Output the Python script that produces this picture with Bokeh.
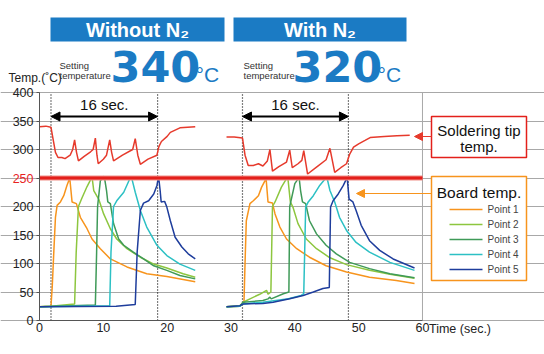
from bokeh.plotting import figure
from bokeh.models import Range1d, FixedTicker, LinearAxis, Arrow, NormalHead
from bokeh.core.properties import value
from bokeh.embed import file_html
from bokeh.resources import INLINE

# ---------------- data ----------------
x_ticks = [0, 10, 20, 30, 40, 50, 60]
y_ticks = [0, 50, 100, 150, 200, 250, 300, 350, 400]
threshold = 250
marker_times = [1.8, 18.5, 31.8, 48.4]
interval_label = "16 sec."
panel_titles = ["Without N\u2082", "With N\u2082"]
set_temps = ["340", "320"]
series_names = ["Point 1", "Point 2", "Point 3", "Point 4", "Point 5"]

# soldering tip temperature
tip_wo_t = [0, 1.0, 1.8, 2.1, 2.5, 2.9, 3.5, 4.0, 4.8, 5.2, 5.5, 5.8, 6.1, 7.0, 8.0, 8.4, 8.75, 9.0, 9.2, 10.0,
            10.5, 11.0, 11.3, 11.6, 13.0, 14.6, 15.0, 15.4, 15.8, 17.0, 18.4, 18.7, 19.1, 20.0, 20.5, 22.0, 24.4]
tip_wo_v = [340, 341, 339, 320, 295, 286, 286, 284, 290, 300, 317, 295, 280, 288, 296, 300, 320, 290, 275, 283,
            290, 317, 295, 280, 290, 300, 319, 290, 274, 283, 290, 305, 314, 323, 330, 338, 340]
tip_w_t = [29.3, 30.5, 31.8, 32.2, 32.7, 33.5, 34.3, 35.0, 35.7, 36.1, 36.5, 37.5, 38.7, 39.2, 39.6, 40.5, 41.1,
           41.4, 42.0, 43.5, 44.9, 45.5, 46.25, 47.2, 48.1, 48.6, 49.2, 50.0, 51.0, 51.8, 54.0, 56.0, 58.0]
tip_w_v = [322, 322, 320, 290, 272, 272, 275, 271, 280, 300, 262, 270, 278, 299, 268, 275, 281,
           298, 257, 270, 282, 302, 260, 268, 275, 292, 304, 310, 316, 321, 323, 324, 325]

# board temperature, without N2
p1_wo_t = [0, 1.8, 2.0, 2.24, 2.5, 2.76, 3.28, 3.8, 4.3, 4.74, 5.1, 5.78, 6.4, 7.45, 8.23, 9.53, 11.1, 13.7, 16.8, 19.95, 24.4]
p1_wo_v = [24, 25, 60, 120, 181, 202, 208, 219, 237, 250, 208, 205, 181, 161, 143, 126, 108, 94, 82, 77, 68]
p2_wo_t = [0, 1.8, 5.5, 5.75, 6.1, 6.65, 7.45, 8.23, 8.5, 9.27, 10.05, 11.1, 12.1, 13.7, 15.8, 17.9, 19.95, 22.5, 24.4]
p2_wo_v = [24, 25, 29, 120, 200, 215, 235, 252, 228, 213, 187, 161, 143, 126, 111, 99, 92, 82, 76]
p3_wo_t = [0, 8.75, 8.95, 9.1, 9.53, 10.15, 10.5, 10.7, 11.1, 11.6, 12.4, 13.2, 14.7, 16.3, 17.9, 19.95, 22.0, 24.4]
p3_wo_v = [24, 27, 120, 200, 245, 253, 228, 208, 205, 170, 143, 132, 120, 108, 96, 88, 79, 73]
p4_wo_t = [0, 11.0, 11.2, 11.6, 12.1, 13.2, 14.2, 14.4, 15.0, 15.8, 16.8, 18.4, 19.95, 22.0, 24.4]
p4_wo_v = [24, 26, 120, 200, 210, 225, 250, 252, 225, 193, 164, 132, 114, 99, 88]
p5_wo_t = [0, 12.0, 15.0, 15.3, 15.8, 16.3, 17.1, 17.9, 18.4, 18.65, 18.9, 19.06, 19.6, 19.95, 20.5, 21.25, 22.3, 23.3, 24.4]
p5_wo_v = [24, 25, 28, 120, 193, 206, 210, 222, 237, 253, 228, 208, 209, 199, 175, 146, 129, 117, 108]

# board temperature, with N2
p1_w_t = [29.3, 31.4, 32.03, 32.2, 32.4, 32.97, 33.5, 34.3, 34.8, 35.5, 35.8, 36.5, 36.9, 37.66, 38.7, 40.3,
          42.3, 44.9, 48.1, 51.7, 55.9, 58.75]
p1_w_v = [24, 25, 30, 100, 175, 205, 210, 219, 234, 249, 208, 206, 187, 164, 143, 126, 111, 96, 85, 76, 70, 65]
p2_w_t = [29.3, 31.4, 31.9, 32.97, 34.5, 35.57, 35.8, 36.25, 36.5, 36.9, 37.9, 38.7, 38.9, 39.3, 39.7, 40.5,
          41.8, 43.4, 45.5, 48.1, 51.7, 54.9, 58.75]
p2_w_v = [24, 26, 32, 38, 46, 53, 46, 50, 200, 208, 234, 249, 251, 208, 199, 170, 143, 126, 110, 98, 88, 81, 74]
p3_w_t = [29.3, 31.4, 31.9, 35.0, 35.8, 36.1, 36.3, 38.2, 39.07, 39.2, 40.0, 40.67, 40.9, 41.2, 41.7, 42.3,
          43.4, 44.9, 46.5, 48.6, 51.7, 54.9, 58.75]
p3_w_v = [24, 25, 32, 35, 38, 41, 38, 47, 50, 200, 240, 251, 228, 208, 205, 175, 152, 132, 117, 102, 91, 82, 75]
p4_w_t = [29.3, 31.4, 31.9, 35.0, 39.0, 41.0, 41.4, 41.7, 42.1, 42.9, 43.9, 44.8, 45.05, 45.5, 46.25, 47.0,
          48.1, 49.6, 51.7, 54.9, 58.75]
p4_w_v = [24, 25, 29, 32, 38, 44, 47, 199, 208, 219, 237, 249, 250, 228, 208, 181, 158, 137, 120, 102, 88]
p5_w_t = [29.3, 31.4, 31.9, 35.0, 36.6, 39.2, 41.3, 42.9, 44.4, 45.4, 45.6, 46.0, 46.8, 47.6, 48.2, 48.5,
          49.1, 49.6, 50.4, 51.7, 53.3, 55.4, 58.75]
p5_w_v = [24, 26, 29, 30, 32, 38, 44, 50, 56, 58, 199, 210, 222, 237, 251, 213, 208, 193, 167, 140, 123, 108, 92]

# ---------------- styles ----------------
TIP = "#e63a2c"
POINT_COLORS = ["#f7941d", "#8dc63f", "#3f9a58", "#2cc0c4", "#1e3d9c"]
BLUE = "#1b7bc4"
FONT = "Liberation Sans"

W, H = 544, 354
X0, XS = 39.0, 6.383    # pixel of t=0, pixels per second
Y0, YS = 320.0, 0.57    # pixel of 0 degC, pixels per degree


def dx(px):
    return (px - X0) / XS


def dy(py):
    return (Y0 - py) / YS


p = figure(width=W, height=H, x_range=Range1d(dx(0), dx(W)), y_range=Range1d(dy(H), dy(0)),
           output_backend="svg", toolbar_location=None, tools="")
p.min_border = 0
p.min_border_left = p.min_border_right = p.min_border_top = p.min_border_bottom = 0
p.outline_line_color = None
p.background_fill_color = "white"
p.border_fill_color = "white"

# axes
p.xaxis.fixed_location = 0
p.yaxis.fixed_location = 0
p.xaxis.bounds = (x_ticks[0], x_ticks[-1])
p.yaxis.bounds = (y_ticks[0], y_ticks[-1])
p.xaxis.ticker = FixedTicker(ticks=x_ticks)
p.yaxis.ticker = FixedTicker(ticks=y_ticks)
p.yaxis.major_label_overrides = {threshold: ""}
for ax in (p.xaxis, p.yaxis):
    ax.axis_line_color = "#555555"
    ax.axis_line_width = 1
    ax.major_label_text_font = FONT
    ax.major_label_text_font_size = "12.5px"
    ax.major_label_text_color = "#222222"
    ax.minor_tick_line_color = None
    ax.major_tick_in = 0
p.yaxis.major_tick_out = 3
p.yaxis.major_tick_line_color = "#555555"
p.yaxis.major_label_standoff = 3
p.xaxis.major_tick_out = 0
p.xaxis.major_tick_line_color = None
p.xaxis.major_label_standoff = 2

red_axis = LinearAxis(fixed_location=0, ticker=FixedTicker(ticks=[threshold]), bounds=(0, 400),
                      axis_line_color=None, major_tick_line_color=None, minor_tick_line_color=None,
                      major_tick_out=3, major_tick_in=0, major_label_standoff=3,
                      major_label_text_font=FONT, major_label_text_font_size="12.5px",
                      major_label_text_color="#e8231f")
p.add_layout(red_axis, "left")

p.xgrid.visible = False
p.ygrid.ticker = FixedTicker(ticks=y_ticks)
p.ygrid.bounds = (x_ticks[0], x_ticks[-1])
p.ygrid.grid_line_color = "#a8a8a8"
p.ygrid.grid_line_width = 1

# right frame edge
p.segment(x0=[x_ticks[-1]], y0=[y_ticks[0]], x1=[x_ticks[-1]], y1=[y_ticks[-1]], line_color="#a8a8a8", line_width=1)

# dotted markers
p.segment(x0=marker_times, y0=[y_ticks[0]] * 4, x1=marker_times, y1=[y_ticks[-1]] * 4,
          line_color="black", line_width=1.2, line_dash="1 2")

# board temperature series
board_wo = [(p1_wo_t, p1_wo_v), (p2_wo_t, p2_wo_v), (p3_wo_t, p3_wo_v), (p4_wo_t, p4_wo_v), (p5_wo_t, p5_wo_v)]
board_w = [(p1_w_t, p1_w_v), (p2_w_t, p2_w_v), (p3_w_t, p3_w_v), (p4_w_t, p4_w_v), (p5_w_t, p5_w_v)]
for i, name in enumerate(series_names):
    for t, v in (board_wo[i], board_w[i]):
        p.line(t, v, line_color=POINT_COLORS[i], line_width=1.5)

# tip temperature
p.line(tip_wo_t, tip_wo_v, line_color=TIP, line_width=1.5)
p.line(tip_w_t, tip_w_v, line_color=TIP, line_width=1.5)

# threshold line
p.line([x_ticks[0], x_ticks[-1]], [threshold, threshold], line_color="#f08f88", line_width=5)
p.line([x_ticks[0], x_ticks[-1]], [threshold, threshold], line_color="#e3201b", line_width=3)

# 16 sec arrows
ya = dy(116)
for a, b in ((marker_times[0], marker_times[1]), (marker_times[2], marker_times[3])):
    p.add_layout(Arrow(start=NormalHead(size=9, fill_color="black", line_color="black"),
                       end=NormalHead(size=9, fill_color="black", line_color="black"),
                       x_start=a, y_start=ya, x_end=b, y_end=ya, line_color="black", line_width=2))
    p.text(x=[(a + b) / 2], y=[dy(104)], text=[interval_label], text_align="center", text_baseline="middle",
           text_font=value(FONT), text_font_size=value("15px"), text_color="#111111")

# header boxes
p.quad(left=[dx(50), dx(233)], right=[dx(224), dx(406)], top=[dy(17), dy(17)], bottom=[dy(41), dy(41)],
       fill_color=BLUE, line_color=None)
p.text(x=[dx(137), dx(319.5)], y=[dy(29.5), dy(29.5)], text=panel_titles, text_align="center",
       text_baseline="middle", text_font=value(FONT), text_font_style="bold",
       text_font_size=value("20px"), text_color="white")
for lx in (59, 243):
    p.text(x=[dx(lx), dx(lx)], y=[dy(65), dy(75)], text=["Setting", "temperature"], text_align="left",
           text_baseline="middle", text_font=value(FONT), text_font_size=value("9.5px"), text_color="#333333")
p.text(x=[dx(110), dx(292)], y=[dy(66), dy(66)], text=set_temps, text_align="left", text_baseline="middle",
       text_font=value("DejaVu Sans"), text_font_style="bold", text_font_size=value("43px"), text_color=BLUE)
p.text(x=[dx(195), dx(377)], y=[dy(73.5), dy(73.5)], text=["\u00b0C", "\u00b0C"], text_align="left",
       text_baseline="middle", text_font=value(FONT), text_font_size=value("21px"), text_color=BLUE)

# axis titles
p.text(x=[dx(8)], y=[dy(77)], text=["Temp.(\u02daC)"], text_align="left", text_baseline="middle",
       text_font=value(FONT), text_font_size=value("12px"), text_color="#222222")
p.text(x=[dx(428.5)], y=[dy(328)], text=["Time (sec.)"], text_align="left", text_baseline="middle",
       text_font=value(FONT), text_font_size=value("12.5px"), text_color="#222222")

# callout boxes
p.quad(left=[dx(431)], right=[dx(526)], top=[dy(116)], bottom=[dy(157)], fill_color="white",
       line_color="#e3201b", line_width=1.5)
p.text(x=[dx(478.5), dx(478.5)], y=[dy(130), dy(146)], text=["Soldering tip", "temp."], text_align="center",
       text_baseline="middle", text_font=value(FONT), text_font_size=value("15px"), text_color="#111111")
p.add_layout(Arrow(end=NormalHead(size=8, fill_color=TIP, line_color=TIP), x_start=dx(431), y_start=dy(136),
                   x_end=dx(414), y_end=dy(136), line_color=TIP, line_width=1.2))

p.quad(left=[dx(431)], right=[dx(526)], top=[dy(176)], bottom=[dy(280)], fill_color="white",
       line_color=POINT_COLORS[0], line_width=1.5)
p.text(x=[dx(478.5)], y=[dy(192)], text=["Board temp."], text_align="center", text_baseline="middle",
       text_font=value(FONT), text_font_size=value("15.5px"), text_color="#111111")
p.add_layout(Arrow(end=NormalHead(size=8, fill_color=POINT_COLORS[0], line_color=POINT_COLORS[0]),
                   x_start=dx(431), y_start=dy(193), x_end=dx(356), y_end=dy(193),
                   line_color=POINT_COLORS[0], line_width=1.2))

# legend
leg_y = [209, 224, 239, 254, 269]
for i, name in enumerate(series_names):
    p.segment(x0=[dx(449)], y0=[dy(leg_y[i])], x1=[dx(482)], y1=[dy(leg_y[i])], line_color=POINT_COLORS[i],
              line_width=1.5)
    p.text(x=[dx(487)], y=[dy(leg_y[i])], text=[name], text_align="left", text_baseline="middle",
           text_font=value(FONT), text_font_size=value("10px"), text_color="#444444")

open("out.html", "w").write(file_html(p, INLINE))
